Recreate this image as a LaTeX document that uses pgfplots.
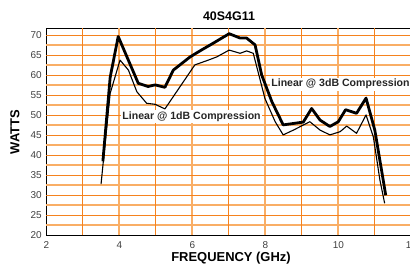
\documentclass[border=0pt]{standalone}
\usepackage{pgfplots}
\pgfplotsset{compat=1.18}
\usepackage{fontspec}
\setmainfont{Liberation Sans}
\definecolor{griddark}{HTML}{F5821E}
\definecolor{gridlight}{HTML}{F9AE66}
\begin{document}
\begin{tikzpicture}[x=1bp,y=1bp]
\begin{axis}[
  at={(46.3bp,31.7bp)}, anchor=south west,
  scale only axis, width=365bp, height=207bp,
  xmin=2, xmax=12, ymin=20, ymax=71.75,
  xtick={2,4,6,8,10,12}, ytick={20,25,30,35,40,45,50,55,60,65,70},
  major tick length=0pt,
  axis line style={black, line width=0.9pt},
  /pgf/number format/assume math mode=true,
  ticklabel style={font=\fontsize{10}{11}\selectfont, text=black!75},
  xticklabel style={yshift=-3bp},
  yticklabel style={xshift=-1bp},
  clip=false,
]
% horizontal grid (light)
\draw[gridlight, line width=1.9bp] (axis cs:2,22.5) -- (axis cs:12,22.5);
\draw[gridlight, line width=1.9bp] (axis cs:2,27.5) -- (axis cs:12,27.5);
\draw[gridlight, line width=1.9bp] (axis cs:2,32.5) -- (axis cs:12,32.5);
\draw[gridlight, line width=1.9bp] (axis cs:2,37.5) -- (axis cs:12,37.5);
\draw[gridlight, line width=1.9bp] (axis cs:2,42.5) -- (axis cs:12,42.5);
\draw[gridlight, line width=1.9bp] (axis cs:2,47.5) -- (axis cs:12,47.5);
\draw[gridlight, line width=1.9bp] (axis cs:2,52.5) -- (axis cs:12,52.5);
\draw[gridlight, line width=1.9bp] (axis cs:2,57.5) -- (axis cs:12,57.5);
\draw[gridlight, line width=1.9bp] (axis cs:2,62.5) -- (axis cs:12,62.5);
\draw[gridlight, line width=1.9bp] (axis cs:2,67.5) -- (axis cs:12,67.5);
% vertical grid (light)
\draw[gridlight, line width=2bp] (axis cs:4,20) -- (axis cs:4,71.75);
\draw[gridlight, line width=2bp] (axis cs:6,20) -- (axis cs:6,71.75);
\draw[gridlight, line width=2bp] (axis cs:8,20) -- (axis cs:8,71.75);
\draw[gridlight, line width=2bp] (axis cs:10,20) -- (axis cs:10,71.75);
% horizontal grid (dark)
\draw[griddark, line width=1.2bp] (axis cs:2,25) -- (axis cs:12,25);
\draw[griddark, line width=1.2bp] (axis cs:2,30) -- (axis cs:12,30);
\draw[griddark, line width=1.2bp] (axis cs:2,35) -- (axis cs:12,35);
\draw[griddark, line width=1.2bp] (axis cs:2,40) -- (axis cs:12,40);
\draw[griddark, line width=1.2bp] (axis cs:2,45) -- (axis cs:12,45);
\draw[griddark, line width=1.2bp] (axis cs:2,50) -- (axis cs:12,50);
\draw[griddark, line width=1.2bp] (axis cs:2,55) -- (axis cs:12,55);
\draw[griddark, line width=1.2bp] (axis cs:2,60) -- (axis cs:12,60);
\draw[griddark, line width=1.2bp] (axis cs:2,65) -- (axis cs:12,65);
\draw[griddark, line width=1.2bp] (axis cs:2,70) -- (axis cs:12,70);
% vertical grid (dark)
\draw[griddark, line width=1.2bp] (axis cs:3,20) -- (axis cs:3,71.75);
\draw[griddark, line width=1.2bp] (axis cs:5,20) -- (axis cs:5,71.75);
\draw[griddark, line width=1.2bp] (axis cs:7,20) -- (axis cs:7,71.75);
\draw[griddark, line width=1.2bp] (axis cs:9,20) -- (axis cs:9,71.75);
\draw[griddark, line width=1.2bp] (axis cs:11,20) -- (axis cs:11,71.75);
\addplot[black, line width=1.1pt, line join=round] coordinates {
(3.50,32.8) (3.75,55.5) (4.02,63.8) (4.25,61.3) (4.48,55.9) (4.75,53.0) (4.98,52.75) (5.25,51.6) (5.66,57.1) (6.07,62.6) (6.44,63.8) (6.67,64.6) (7.01,66.3) (7.31,65.5) (7.49,66.1) (7.67,65.5) (7.99,54.2) (8.27,48.4) (8.49,45.1) (8.77,46.3) (9.22,48.4) (9.50,46.3) (9.77,45.1) (10.05,45.9) (10.23,47.3) (10.50,45.5) (10.76,50.1) (10.96,44.6) (11.14,33.8) (11.27,28.0)
};
\addplot[black, line width=2.8pt, line join=round] coordinates {
(3.55,38.5) (3.75,59.5) (3.97,69.7) (4.52,58.0) (4.79,57.2) (4.98,57.6) (5.25,57.0) (5.48,61.3) (5.94,64.6) (6.21,66.1) (6.55,67.9) (7.01,70.4) (7.31,69.3) (7.49,69.3) (7.72,67.6) (7.90,60.1) (8.18,53.4) (8.49,47.6) (9.04,48.3) (9.27,51.7) (9.50,48.8) (9.77,47.2) (10.0,48.4) (10.2,51.4) (10.50,50.5) (10.76,54.3) (11.0,46.3) (11.3,30.0)
};
\node[fill=white, inner sep=1.5bp, font=\fontsize{10.6}{12}\selectfont\bfseries, text=black!85] at (axis cs:5.98,49.6) {Linear @ 1dB Compression};
\node[fill=white, inner sep=1.5bp, font=\fontsize{10.6}{12}\selectfont\bfseries, text=black!85] at (axis cs:10.06,57.8) {Linear @ 3dB Compression};
\end{axis}
\node[font=\fontsize{12.5}{14}\selectfont\bfseries] at (229bp,251bp) {40S4G11};
\node[font=\fontsize{13}{15}\selectfont\bfseries] at (231bp,9bp) {FREQUENCY (GHz)};
\node[font=\fontsize{13}{15}\selectfont\bfseries, rotate=90] at (15bp,135bp) {WATTS};
\pgfresetboundingbox
\useasboundingbox (0,0) rectangle (410bp,267bp);
\end{tikzpicture}
\end{document}
